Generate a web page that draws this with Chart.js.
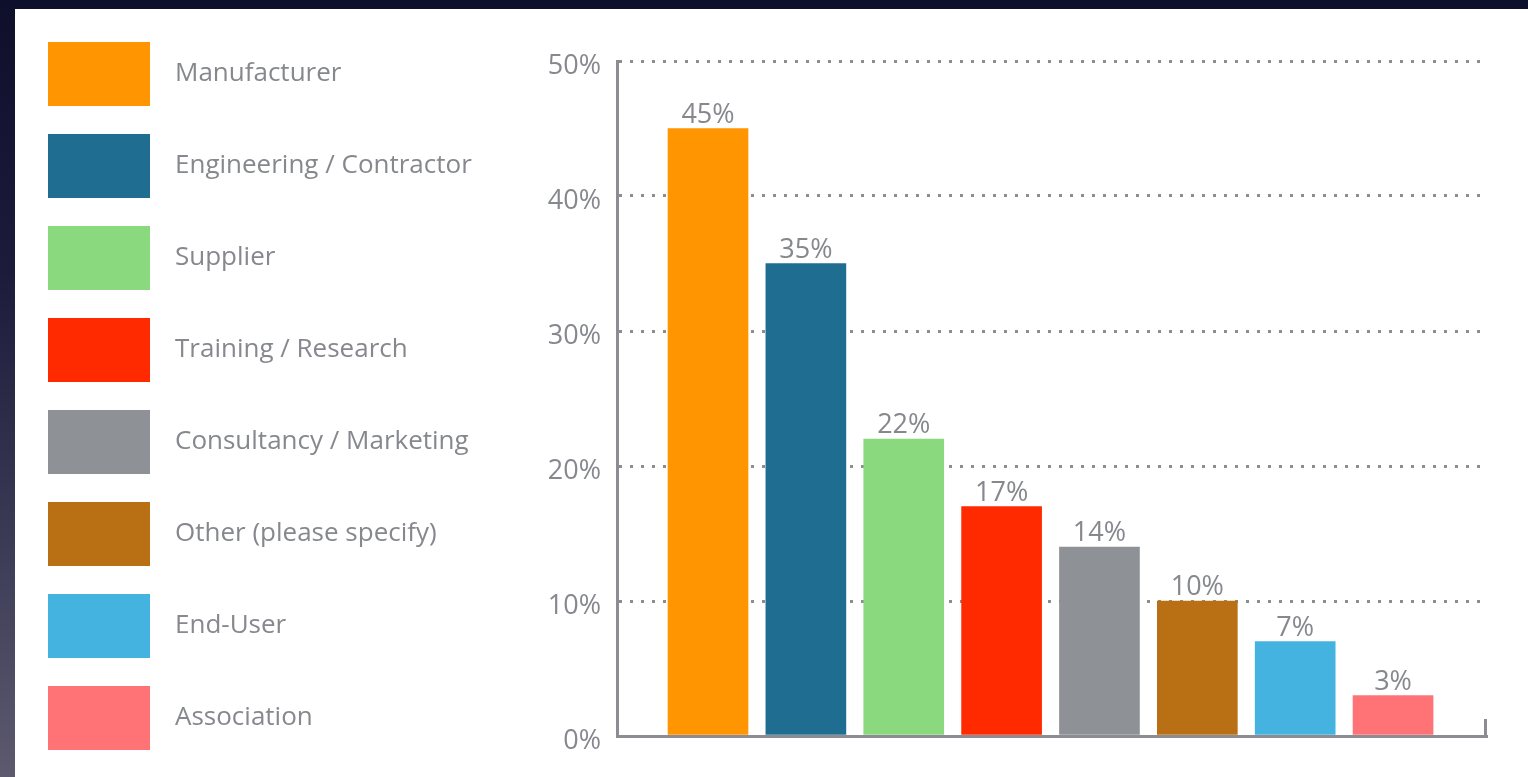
<!DOCTYPE html>
<html>
<head>
<meta charset="utf-8">
<title>Respondents by organisation type</title>
<script src="https://cdn.jsdelivr.net/npm/chart.js@4.4.1/dist/chart.umd.min.js"></script>
<style>
  html, body { margin: 0; width: 100%; height: 100%; overflow: hidden; }
  body { background: linear-gradient(180deg, #0d0f2b 0%, #1a1c3a 35%, #3c3b56 70%, #5d5a6f 100%); }
  #panel { position: absolute; left: 15px; top: 9px; width: 1513px; height: 768px; background: #ffffff; }
</style>
</head>
<body>
<div id="panel"><canvas id="orgChart" width="1513" height="768"></canvas></div>
<script>
const categories = [
  'Manufacturer',
  'Engineering / Contractor',
  'Supplier',
  'Training / Research',
  'Consultancy / Marketing',
  'Other (please specify)',
  'End-User',
  'Association'
];
const shares = [45, 35, 22, 17, 14, 10, 7, 3];
const barColors = ['#ff9500', '#1f6e92', '#8bd97e', '#ff2a00', '#8e9196', '#b96f14', '#45b3e0', '#ff7377'];

const AXIS_GRAY = '#8b8d93';
const TEXT_GRAY = '#86888e';
const FONT = '"Open Sans", "Noto Sans", sans-serif';

Chart.defaults.font.family = FONT;

// value printed above each bar
const barValueLabels = {
  id: 'barValueLabels',
  afterDatasetsDraw(chart) {
    const ctx = chart.ctx;
    const meta = chart.getDatasetMeta(0);
    ctx.save();
    ctx.font = '27px ' + FONT;
    ctx.fillStyle = TEXT_GRAY;
    ctx.textAlign = 'center';
    ctx.textBaseline = 'alphabetic';
    meta.data.forEach((bar, i) => ctx.fillText(shares[i] + '%', bar.x, bar.y - 6));
    ctx.restore();
  }
};

// little upturn at the right end of the baseline
const axisEndTick = {
  id: 'axisEndTick',
  afterDraw(chart) {
    const {ctx, chartArea} = chart;
    const x = chartArea.right - 1.5;
    ctx.save();
    ctx.strokeStyle = AXIS_GRAY;
    ctx.lineWidth = 3;
    ctx.beginPath();
    ctx.moveTo(x, chartArea.bottom + 1.5);
    ctx.lineTo(x, chartArea.bottom - 17);
    ctx.stroke();
    ctx.restore();
  }
};

new Chart(document.getElementById('orgChart'), {
  type: 'bar',
  data: {
    datasets: [{
      data: categories.map((name, i) => ({x: i + 1, y: shares[i]})),
      backgroundColor: barColors,
      barThickness: 80
    }]
  },
  options: {
    responsive: false,
    animation: false,
    layout: {padding: {left: 17, top: 17, right: 41, bottom: 0}},
    plugins: {
      tooltip: {enabled: false},
      legend: {
        position: 'left',
        align: 'start',
        maxWidth: 700,
        labels: {
          // white stroke trims the swatch and leaves a gap before the text
          boxWidth: 126,
          boxHeight: 88,
          padding: 4,
          color: TEXT_GRAY,
          font: {size: 26},
          generateLabels: () => categories.map((name, i) => ({
            text: name,
            fillStyle: barColors[i],
            strokeStyle: '#ffffff',
            fontColor: TEXT_GRAY,
            lineWidth: 24,
            hidden: false,
            index: i
          }))
        }
      }
    },
    scales: {
      x: {
        type: 'linear',
        offset: false,
        min: 0.07,
        max: 8.96,
        ticks: {display: false},
        grid: {display: false},
        border: {color: AXIS_GRAY, width: 3},
        afterFit: s => { s.height = 41; }
      },
      y: {
        min: 0,
        max: 50,
        ticks: {
          stepSize: 10,
          padding: 16,
          labelOffset: 5,
          color: TEXT_GRAY,
          font: {size: 27},
          callback: v => v + '%'
        },
        grid: {color: AXIS_GRAY, lineWidth: 3, drawTicks: false},
        border: {color: AXIS_GRAY, width: 3, dash: [3, 8]},
        afterFit: s => {
          s.width = 602 - 17 - s.chart.legend.width;
          s.paddingTop = 52;
        }
      }
    }
  },
  plugins: [barValueLabels, axisEndTick]
});
</script>
</body>
</html>
